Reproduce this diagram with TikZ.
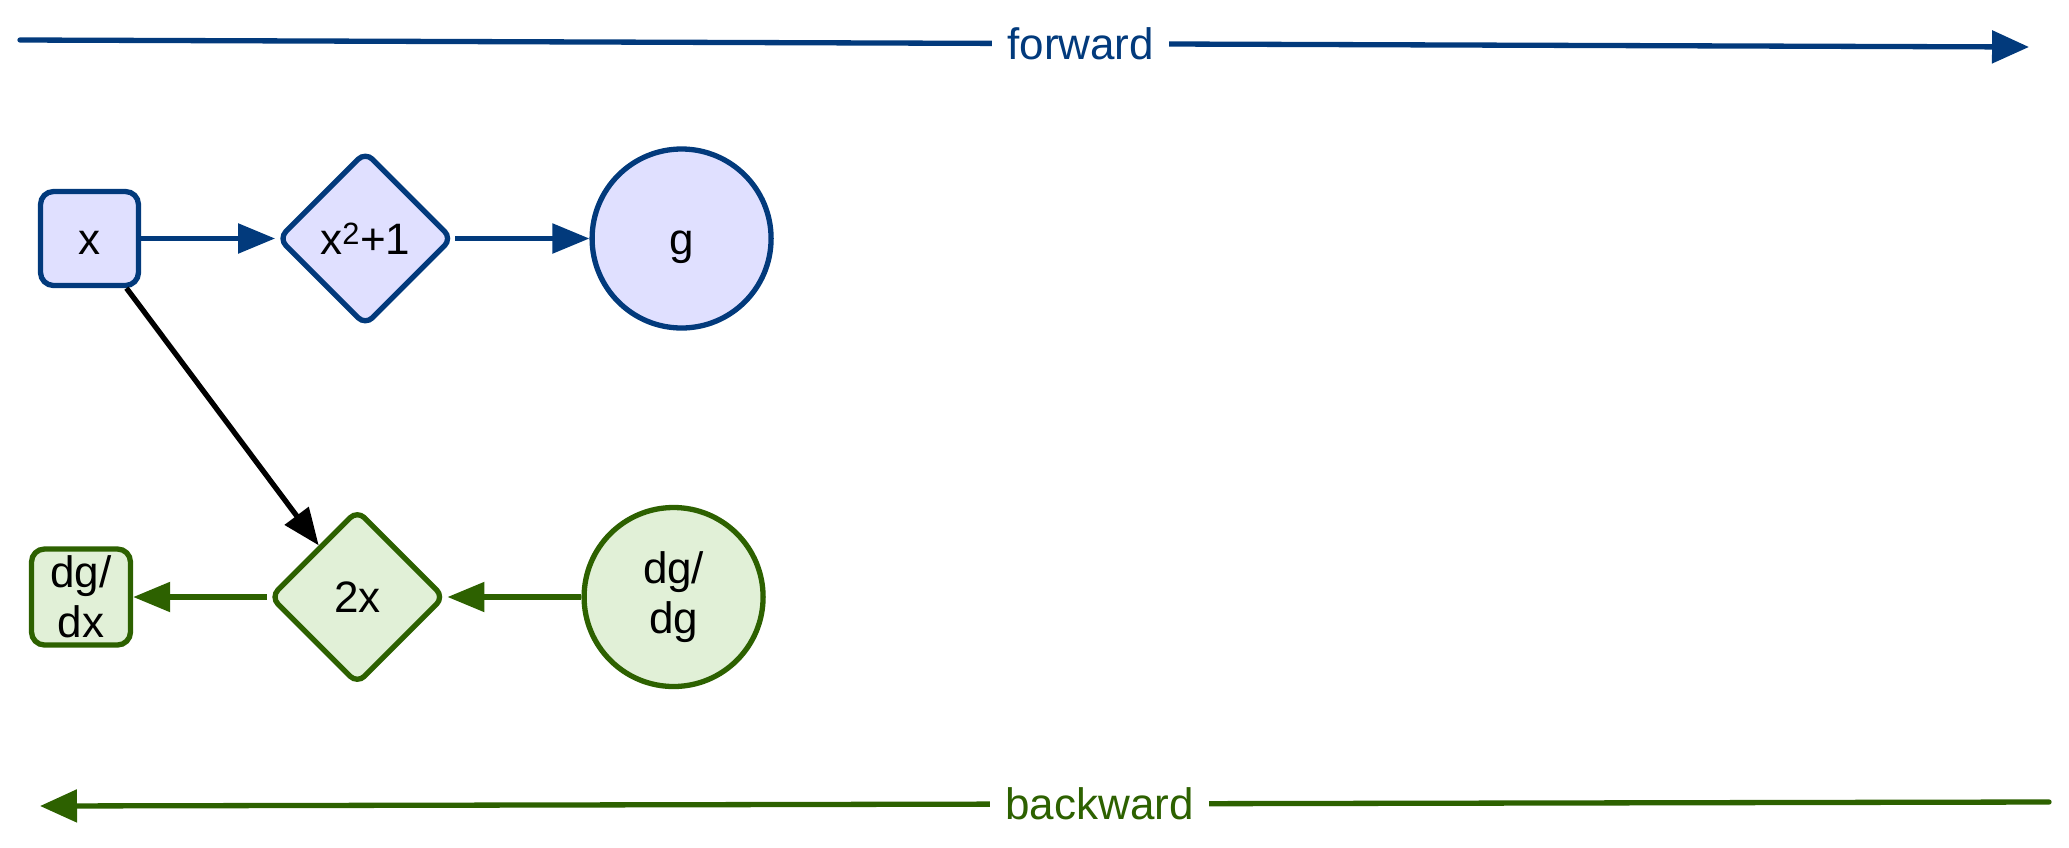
\documentclass[tikz,border=0pt]{standalone}
\usepackage{fontspec}
\setmainfont{Liberation Sans}
\usepackage{xcolor}
\definecolor{fwdblue}{HTML}{023A7C}
\definecolor{fwdfill}{HTML}{E0E0FF}
\definecolor{bwdgreen}{HTML}{2D6100}
\definecolor{bwdfill}{HTML}{E1F0D7}
\usetikzlibrary{arrows.meta,positioning,shapes.geometric}
\tikzset{
  gn/.style={align=center, font=\fontsize{44}{50}\selectfont, inner sep=0pt, line width=5.3pt},
  oneline/.style={text height=40pt, text depth=9pt},
  gbox/.style={gn, rectangle, rounded corners=13pt, minimum width=98pt, minimum height=94pt},
  gop/.style={gn, oneline, diamond, aspect=1, rounded corners=10pt, minimum size=175pt},
  gout/.style={gn, circle, minimum size=179pt},
  fwd/.style={draw=fwdblue, fill=fwdfill},
  bwd/.style={draw=bwdgreen, fill=bwdfill},
  ar/.style={-{Triangle[length=37pt,width=29pt]}, line width=5.3pt},
  dirline/.style={line width=5.3pt, line cap=round, -{Triangle[length=37pt,width=32pt]}},
  dirlabel/.style={fill=white, inner xsep=15pt, font=\fontsize{44}{50}\selectfont},
}
\begin{document}
\begin{tikzpicture}[x=1pt, y=-1pt, node distance=134pt]
  \useasboundingbox (0,0) rectangle (2069,847);
  % forward pass
  \node[gbox, oneline, fwd] (x) at (89.5,238.5) {x};
  \node[gop, fwd, right=of x] (sq) {x\textsuperscript{2}+1};
  \node[gout, oneline, fwd, right=of sq] (g) {g};
  % backward pass
  \node[gbox, bwd, minimum width=99pt, minimum height=96pt] (dgdx) at (81,597) {dg/\\dx};
  \node[gop, bwd, right=of dgdx] (dsq) {2x};
  \node[gout, bwd, right=of dsq] (dgdg) {dg/\\dg};
  \draw[ar, fwdblue] (x) -- (sq);
  \draw[ar, fwdblue] (sq) -- (g);
  \draw[ar, black] (x) -- (dsq);
  \draw[ar, bwdgreen] (dgdg) -- (dsq);
  \draw[ar, bwdgreen] (dsq) -- (dgdx);
  % direction arrows
  \coordinate (fwdS) at (20,40);
  \coordinate (fwdE) at (2029,47);
  \coordinate (bwdS) at (2049,802);
  \coordinate (bwdE) at (40,806);
  \draw[dirline, fwdblue] (fwdS) -- node[dirlabel, pos=0.528, text=fwdblue] (fwdlbl) {forward} (fwdE);
  \draw[dirline, bwdgreen] (bwdS) -- node[dirlabel, pos=0.4726, text=bwdgreen] (bwdlbl) {backward} (bwdE);
\end{tikzpicture}
\end{document}
